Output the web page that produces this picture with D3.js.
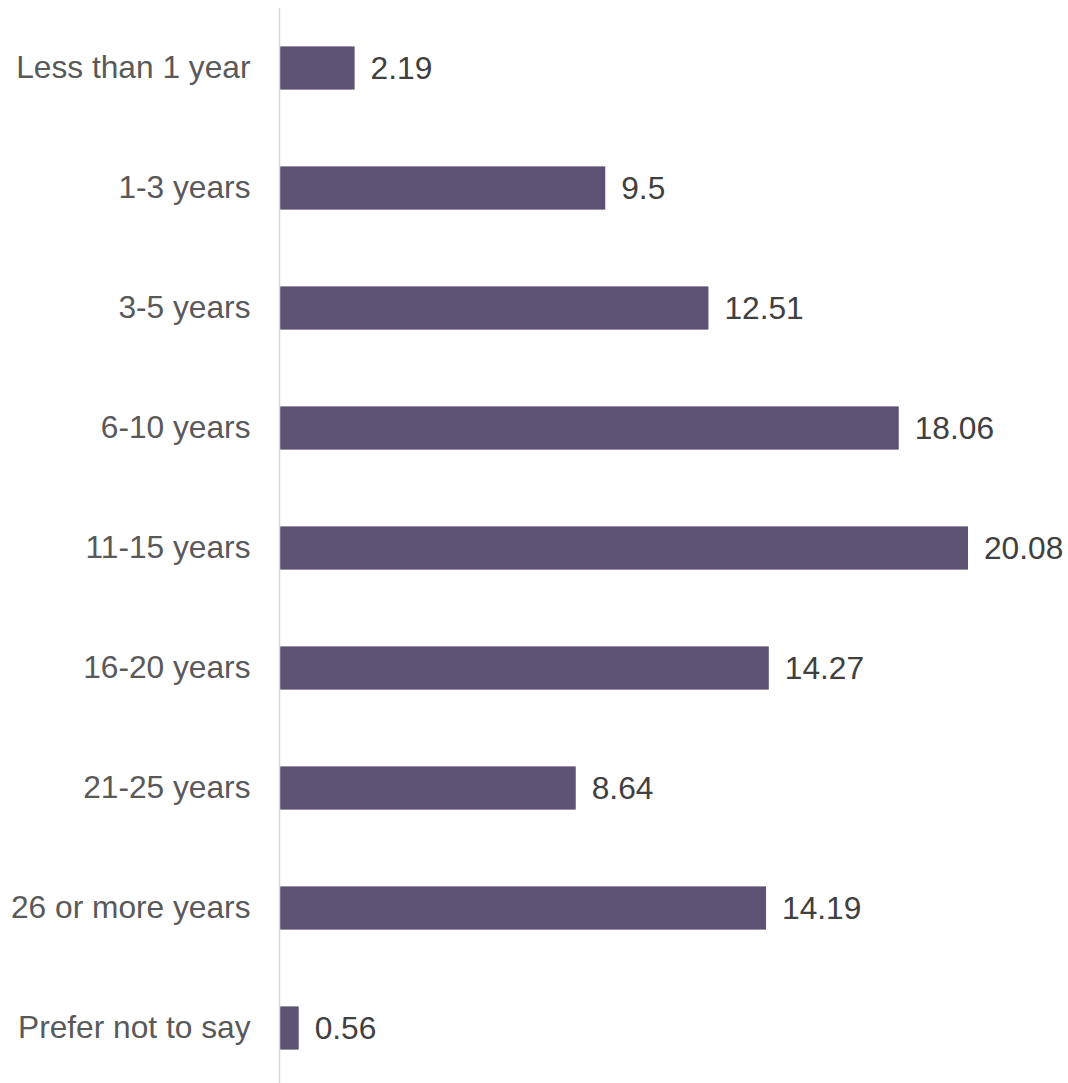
<!DOCTYPE html>
<html>
<head>
<meta charset="utf-8">
<script src="https://cdn.jsdelivr.net/npm/d3@7"></script>
<style>
  html, body { margin: 0; padding: 0; background: #fff; }
  svg { display: block; }
  svg text { font-family: "Liberation Sans", Arial, Helvetica, sans-serif; font-size: 31.7px; }
</style>
</head>
<body>
<svg id="chart" width="1068" height="1083"></svg>
<script>
// Years of experience and share of respondents (%)
const categories = [
  "Less than 1 year", "1-3 years", "3-5 years", "6-10 years", "11-15 years",
  "16-20 years", "21-25 years", "26 or more years", "Prefer not to say"
];
const values = [2.19, 9.5, 12.51, 18.06, 20.08, 14.27, 8.64, 14.19, 0.56];

const svg = d3.select("#chart");
const x0 = 279.5;

const x = d3.scaleLinear().domain([0, 20.08]).range([x0, 968]);
const y = d3.scaleBand().domain(categories).range([8, 1088])
  .paddingInner(0.64).paddingOuter(0.32);

// bars
svg.append("g").selectAll("rect").data(values).join("rect")
  .attr("x", x(0))
  .attr("y", (d, i) => y(categories[i]))
  .attr("width", d => x(d) - x(0))
  .attr("height", y.bandwidth())
  .attr("fill", "#5d5174");

// vertical axis line and category labels
const axis = d3.axisLeft(y).tickSize(0).tickPadding(29);
const g = svg.append("g").attr("transform", `translate(${x0},0)`).call(axis);
g.attr("font-family", null).attr("font-size", null);
g.select(".domain").attr("stroke", "#d9d9d9").attr("stroke-width", 1.5)
  .attr("d", "M0,8V1083");
g.selectAll(".tick text").attr("fill", "#595959");

// value labels
svg.append("g").selectAll("text").data(values).join("text")
  .attr("x", d => x(d) + 16)
  .attr("y", (d, i) => y(categories[i]) + y.bandwidth() / 2)
  .attr("dy", "0.35em")
  .attr("fill", "#404040")
  .text(d => d);
</script>
</body>
</html>
